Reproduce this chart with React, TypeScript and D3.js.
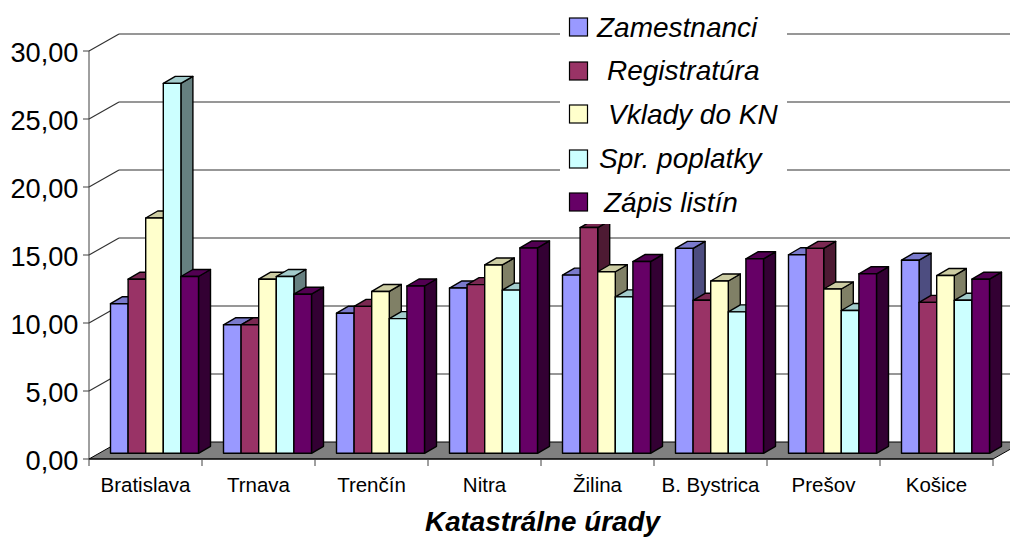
import React from "react";
import * as d3 from "d3";

const categories = ["Bratislava", "Trnava", "Trenčín", "Nitra", "Žilina", "B. Bystrica", "Prešov", "Košice"];
const seriesNames = ["Zamestnanci", "Registratúra", "Vklady do KN", "Spr. poplatky", "Zápis listín"];
const zamestnanci = [11.0, 9.45, 10.3, 12.15, 13.1, 15.07, 14.6, 14.2];
const registratura = [12.8, 9.45, 10.8, 12.4, 16.6, 11.25, 15.07, 11.1];
const vklady = [17.3, 12.8, 11.9, 13.85, 13.35, 12.67, 12.08, 13.07];
const poplatky = [27.2, 13.0, 9.9, 12.0, 11.5, 10.4, 10.5, 11.25];
const zapis = [13.0, 11.7, 12.3, 15.1, 14.1, 14.3, 13.2, 12.8];
const seriesValues = [zamestnanci, registratura, vklady, poplatky, zapis];
const yTicks = [0, 5, 10, 15, 20, 25, 30];
const colors = ["#9999FF", "#993366", "#FFFFCC", "#CCFFFF", "#660066"];
const legendTextX = [597, 607, 608, 599, 604];
const legendBaseY = [36.5, 79.5, 124, 167.5, 211.5];
const legendSwatchY = [18, 62, 105, 150, 193];

const W = 1010, H = 543;
const x0 = 89, x1 = 993, y0 = 459, yTop = 51;
const wallDx = 30, wallDy = 17;
const barDx = 12, barDy = 7, barLift = 5.7;
const font = "'Liberation Sans', Arial, sans-serif";

const y = d3.scaleLinear().domain([0, 30]).range([y0, yTop]);
const xCat = d3.scaleBand<string>().domain(categories).range([x0, x1]);
const xSer = d3.scaleBand<string>().domain(seriesNames).range([21.5, 109.5]);
const shade = (c: string, k: number) => {
  const r = d3.rgb(c);
  return d3.rgb(r.r * k, r.g * k, r.b * k).formatHex();
};
const fmt = (v: number) => v.toFixed(2).replace(".", ",");
const pts = (a: number[][]) => a.map((p) => p.join(",")).join(" ");

export default function App() {
  return (
    <svg width={W} height={H} viewBox={`0 0 ${W} ${H}`} style={{ position: "fixed", left: 0, top: 0, background: "#fff" }}>
      {/* floor */}
      <polygon points={pts([[x0, y0], [x0 + wallDx, y0 - wallDy], [x1 + wallDx, y0 - wallDy], [x1, y0]])} fill="#808080" stroke="#000" strokeWidth={1} />
      {/* gridlines */}
      {yTicks.filter((t) => t > 0).map((t) => (
        <g key={t} fill="none" stroke="#303030" strokeWidth={1.1}>
          <line x1={x0} y1={y(t)} x2={x0 + wallDx} y2={y(t) - wallDy} />
          <line x1={x0 + wallDx} y1={y(t) - wallDy} x2={W + 10} y2={y(t) - wallDy} />
        </g>
      ))}
      {/* axes */}
      <line x1={x0} y1={yTop} x2={x0} y2={y0} stroke="#404040" strokeWidth={1} />
      <line x1={x0} y1={y0} x2={x1} y2={y0} stroke="#000" strokeWidth={1.2} />
      {yTicks.map((t) => (
        <g key={t}>
          <line x1={x0 - 6} y1={y(t)} x2={x0} y2={y(t)} stroke="#404040" />
          <text x={78.5} y={y(t) + 10.5} textAnchor="end" fontFamily={font} fontSize={27.2} fill="#000">{fmt(t)}</text>
        </g>
      ))}
      {[...categories.map((c) => xCat(c)!), x1].map((tx, i) => (
        <line key={i} x1={tx} y1={y0} x2={tx} y2={y0 + 7} stroke="#404040" />
      ))}
      {categories.map((c) => (
        <text key={c} x={xCat(c)! + xCat.bandwidth() / 2} y={491.5} textAnchor="middle" fontFamily={font} fontSize={20.5} fill="#000">{c}</text>
      ))}
      {/* bars */}
      {categories.map((c, ci) => (
        <g key={c}>
          {seriesNames.map((s, si) => {
            const l = xCat(c)! + xSer(s)!;
            const r = l + xSer.bandwidth();
            const b = y(0) - barLift;
            const t = y(seriesValues[si][ci]) - barLift;
            const col = colors[si];
            return (
              <g key={s} stroke="#000" strokeWidth={1.4} strokeLinejoin="round">
                <polygon points={pts([[r, b], [r + barDx, b - barDy], [r + barDx, t - barDy], [r, t]])} fill={shade(col, 0.5)} />
                <polygon points={pts([[l, t], [l + barDx, t - barDy], [r + barDx, t - barDy], [r, t]])} fill={shade(col, 0.8)} />
                <rect x={l} y={t} width={r - l} height={b - t} fill={col} />
              </g>
            );
          })}
        </g>
      ))}
      {/* legend */}
      <rect x={560} y={0} width={227} height={224} fill="#fff" />
      {seriesNames.map((s, i) => (
        <g key={s}>
          <rect x={569.5} y={legendSwatchY[i]} width={18} height={18} fill={colors[i]} stroke="#000" strokeWidth={1.2} />
          <text x={legendTextX[i]} y={legendBaseY[i]} fontFamily={font} fontStyle="italic" fontSize={28} fill="#000">{s}</text>
        </g>
      ))}
      <text x={542.5} y={531} textAnchor="middle" fontFamily={font} fontStyle="italic" fontWeight="bold" fontSize={27.8} fill="#000">Katastrálne úrady</text>
    </svg>
  );
}
